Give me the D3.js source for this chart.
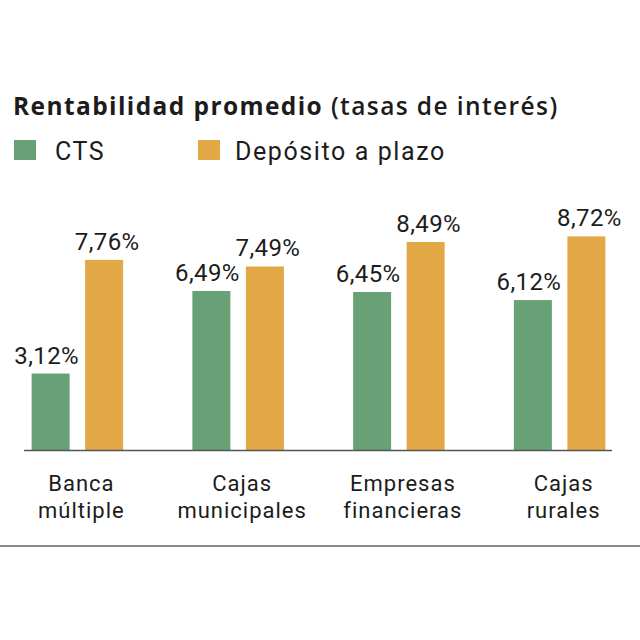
<!DOCTYPE html>
<html>
<head>
<meta charset="utf-8">
<script src="https://cdn.jsdelivr.net/npm/d3@7"></script>
<style>
  html, body { margin: 0; padding: 0; background: #ffffff; }
  svg text { font-family: Roboto, "Noto Sans", sans-serif; fill: #1c1c1c; }
</style>
</head>
<body>
<svg id="chart" width="640" height="640"></svg>
<script>
// ---- data ----
const categories = [["Banca", "múltiple"], ["Cajas", "municipales"], ["Empresas", "financieras"], ["Cajas", "rurales"]];
const seriesNames = ["CTS", "Depósito a plazo"];
const ctsValues = [3.12, 6.49, 6.45, 6.12];
const depositoValues = [7.76, 7.49, 8.49, 8.72];
const titleBold = "Rentabilidad promedio";
const titleRest = " (tasas de interés)";

// ---- layout ----
const W = 640, H = 640;
const baseY = 450;
const colors = { "CTS": "#68a175", "Depósito a plazo": "#e3a846" };
const labelShift = { "CTS": -4, "Depósito a plazo": 3 };
const fmt = v => v.toFixed(2).replace(".", ",") + "%";

const svg = d3.select("#chart");
svg.append("rect").attr("width", W).attr("height", H).attr("fill", "#fff");

const catKeys = categories.map(c => c.join(" "));
const x0 = d3.scaleBand().domain(catKeys).range([-3, 640]).paddingInner(0).paddingOuter(0);
const x1 = d3.scaleBand().domain(seriesNames).range([-45.75, 45.75]).paddingInner(0.29).paddingOuter(0);
const y = d3.scaleLinear().domain([0, 9]).range([baseY, baseY - 9 * 24.5]);

const rows = catKeys.map((k, i) => ({
  key: k,
  lines: categories[i],
  vals: [ { s: "CTS", v: ctsValues[i] }, { s: "Depósito a plazo", v: depositoValues[i] } ]
}));

// title
const title = svg.append("text").attr("x", 13).attr("y", 114.5)
  .style("font-family", "'Open Sans', Roboto, sans-serif").style("font-size", "24.5px")
  .style("letter-spacing", "1.4px");
title.append("tspan").text(titleBold).style("font-weight", "700");
title.append("tspan").text(titleRest).style("font-weight", "600");

// legend
const legendX = [14, 198];
const legendTextX = [55, 235];
seriesNames.forEach((s, i) => {
  svg.append("rect").attr("x", legendX[i]).attr("y", 140).attr("width", 22).attr("height", 20).attr("fill", colors[s]);
  svg.append("text").attr("x", legendTextX[i]).attr("y", 160).style("font-size", "25px").style("letter-spacing", "1.6px").text(s);
});

// bars
const g = svg.selectAll("g.grp").data(rows).join("g").attr("class", "grp")
  .attr("transform", d => `translate(${x0(d.key) + x0.bandwidth() / 2},0)`);

g.selectAll("rect").data(d => d.vals).join("rect")
  .attr("x", d => x1(d.s))
  .attr("width", x1.bandwidth())
  .attr("y", d => y(d.v))
  .attr("height", d => y(0) - y(d.v))
  .attr("fill", d => colors[d.s]);

g.selectAll("text.val").data(d => d.vals).join("text").attr("class", "val")
  .attr("x", d => x1(d.s) + x1.bandwidth() / 2 + labelShift[d.s])
  .attr("y", d => y(d.v) - 10)
  .attr("text-anchor", "middle")
  .style("font-size", "24px")
  .style("letter-spacing", "0.4px")
  .text(d => fmt(d.v));

// category labels
g.append("text").attr("class", "cat").attr("text-anchor", "middle").style("font-size", "22px")
  .style("letter-spacing", "1px")
  .selectAll("tspan").data(d => d.lines).join("tspan")
  .attr("x", 4).attr("y", (d, i) => 491 + i * 27).text(d => d);

// baseline
svg.append("line").attr("x1", 24).attr("x2", 612).attr("y1", baseY + 0.5).attr("y2", baseY + 0.5)
  .attr("stroke", "#555").attr("stroke-width", 1.5);

// bottom rule
svg.append("line").attr("x1", 0).attr("x2", 640).attr("y1", 546).attr("y2", 546)
  .attr("stroke", "#8a8a8a").attr("stroke-width", 2);
</script>
</body>
</html>
